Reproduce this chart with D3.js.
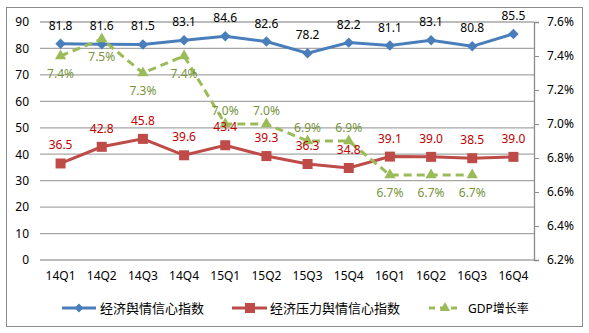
<!DOCTYPE html>
<html><head><meta charset="utf-8">
<script src="https://cdn.jsdelivr.net/npm/d3@7"></script>
<style>body{margin:0;background:#fff}svg{display:block}text{font-family:"Noto Sans","Noto Sans CJK SC",sans-serif}</style>
</head><body><svg id="c" width="589" height="333"></svg>
<script>
const categories = ["14Q1","14Q2","14Q3","14Q4","15Q1","15Q2","15Q3","15Q4","16Q1","16Q2","16Q3","16Q4"];
const confidence = [81.8,81.6,81.5,83.1,84.6,82.6,78.2,82.2,81.1,83.1,80.8,85.5];
const pressure = [36.5,42.8,45.8,39.6,43.4,39.3,36.3,34.8,39.1,39.0,38.5,39.0];
const gdp = [7.4,7.5,7.3,7.4,7.0,7.0,6.9,6.9,6.7,6.7,6.7];
const gdpLabelPos = ["below","below","below","below","above","above","above","above","below","below","below"];
const leftTicks = [0,10,20,30,40,50,60,70,80,90];
const rightTicks = [6.2,6.4,6.6,6.8,7.0,7.2,7.4,7.6];
const seriesNames = ["经济舆情信心指数","经济压力舆情信心指数","GDP增长率"];

const svg = d3.select("#c");
const L = 40, R = 534, T = 22, B = 260;
svg.append("rect").attr("x",6.5).attr("y",7.5).attr("width",576).attr("height",319)
  .attr("fill","#fff").attr("stroke","#8c8c8c");

const x = d3.scaleBand().domain(categories).range([L,R]);
const cx = d => x(d) + x.bandwidth()/2;
const yL = d3.scaleLinear().domain([0,90]).range([B,T]);
const yR = d3.scaleLinear().domain([6.2,7.6]).range([B,T]);

// gridlines
svg.append("g").selectAll("line").data(leftTicks).join("line")
  .attr("x1",L).attr("x2",R).attr("y1",d=>yL(d)).attr("y2",d=>yL(d))
  .attr("stroke","#a6a6a6").attr("stroke-width",1.3);

// left axis labels
const gl = svg.append("g").attr("transform",`translate(${L},0)`)
  .call(d3.axisLeft(yL).tickValues(leftTicks).tickSize(0).tickPadding(11));
gl.select(".domain").remove();
gl.selectAll("text").attr("font-size",12).attr("fill","#000").style("font-family","'Noto Sans',sans-serif");

// right axis
const gr = svg.append("g").attr("transform",`translate(${R},0)`)
  .call(d3.axisRight(yR).tickValues(rightTicks).tickSize(5).tickPadding(8).tickFormat(d=>d.toFixed(1)+"%"));
gr.select(".domain").attr("stroke","#8c8c8c").attr("stroke-width",1.3);
gr.selectAll("line").attr("stroke","#8c8c8c");
gr.selectAll("text").attr("font-size",12).attr("fill","#000").style("font-family","'Noto Sans',sans-serif");

// x axis labels
const gx = svg.append("g").attr("transform",`translate(0,${B})`)
  .call(d3.axisBottom(x).tickSize(0).tickPadding(11));
gx.select(".domain").remove();
gx.selectAll("text").attr("font-size",12).attr("fill","#000").style("font-family","'Noto Sans',sans-serif");

const blue="#4a7ebb", red="#be4b48", green="#9bbb59";

// red series
svg.append("path").datum(pressure).attr("fill","none").attr("stroke",red).attr("stroke-width",3)
  .attr("d",d3.line().x((d,i)=>cx(categories[i])).y(d=>yL(d)));
svg.append("g").selectAll("rect").data(pressure).join("rect")
  .attr("x",(d,i)=>cx(categories[i])-5).attr("y",d=>yL(d)-5).attr("width",10).attr("height",10).attr("fill",red);

// blue series
svg.append("path").datum(confidence).attr("fill","none").attr("stroke",blue).attr("stroke-width",3)
  .attr("d",d3.line().x((d,i)=>cx(categories[i])).y(d=>yL(d)));
svg.append("g").selectAll("path").data(confidence).join("path")
  .attr("transform",(d,i)=>`translate(${cx(categories[i])},${yL(d)})`)
  .attr("d",d3.symbol(d3.symbolDiamond2,70)()).attr("fill",blue);

// green series
svg.append("path").datum(gdp).attr("fill","none").attr("stroke",green).attr("stroke-width",3)
  .attr("stroke-dasharray","8,5")
  .attr("d",d3.line().x((d,i)=>cx(categories[i])).y(d=>yR(d)));
svg.append("g").selectAll("path").data(gdp).join("path")
  .attr("transform",(d,i)=>`translate(${cx(categories[i])},${yR(d)})`)
  .attr("d",d3.symbol(d3.symbolTriangle,55)()).attr("fill",green);

// labels
const lab = svg.append("g").attr("font-size",12).attr("text-anchor","middle");
lab.selectAll(".lb").data(confidence).join("text")
  .attr("x",(d,i)=>cx(categories[i])).attr("y",d=>yL(d)-14).attr("fill","#000").text(d=>d.toFixed(1));
lab.selectAll(".lr").data(pressure).join("text")
  .attr("x",(d,i)=>cx(categories[i])).attr("y",d=>yL(d)-14).attr("fill","#c00000").text(d=>d.toFixed(1));
lab.selectAll(".lg").data(gdp).join("text")
  .attr("x",(d,i)=>cx(categories[i]))
  .attr("y",(d,i)=>gdpLabelPos[i]==="above"? yR(d)-9 : yR(d)+22)
  .attr("fill","#77933c").text(d=>d.toFixed(1)+"%");

// legend
const lg = svg.append("g").attr("font-size",13);
const ly = 308;
// item 1
lg.append("line").attr("x1",62).attr("x2",96).attr("y1",ly).attr("y2",ly).attr("stroke",blue).attr("stroke-width",3);
lg.append("path").attr("transform",`translate(79,${ly})`).attr("d",d3.symbol(d3.symbolDiamond2,50)()).attr("fill",blue);
lg.append("text").attr("x",100).attr("y",ly+5).text(seriesNames[0]);
// item 2
lg.append("line").attr("x1",232).attr("x2",267).attr("y1",ly).attr("y2",ly).attr("stroke",red).attr("stroke-width",3);
lg.append("rect").attr("x",245).attr("y",ly-5).attr("width",10).attr("height",10).attr("fill",red);
lg.append("text").attr("x",270).attr("y",ly+5).text(seriesNames[1]);
// item 3
lg.append("line").attr("x1",429).attr("x2",460).attr("y1",ly).attr("y2",ly).attr("stroke",green).attr("stroke-width",3).attr("stroke-dasharray","6,5");
lg.append("path").attr("transform",`translate(445,${ly})`).attr("d",d3.symbol(d3.symbolTriangle,45)()).attr("fill",green);
lg.append("text").attr("x",468).attr("y",ly+5).attr("font-size",12).text(seriesNames[2]);
</script></body></html>
